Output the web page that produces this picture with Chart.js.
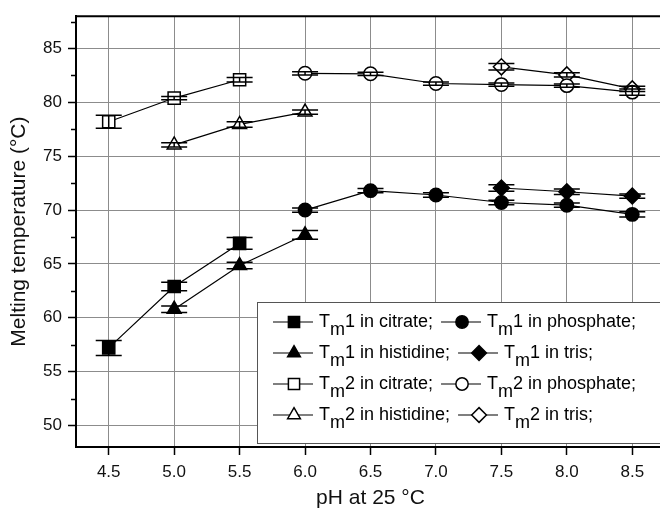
<!DOCTYPE html>
<html lang="en">
<head>
<meta charset="UTF-8">
<title>Melting temperature vs pH</title>
<script src="https://cdn.jsdelivr.net/npm/chart.js"></script>
<style>
  html, body { margin: 0; padding: 0; background: #fff; overflow: hidden; }
  #grafico { display: block; }
</style>
</head>
<body>
<canvas id="grafico" width="680" height="514"></canvas>
<script>
// eje x / eje y
const xTicks = [4.5, 5.0, 5.5, 6.0, 6.5, 7.0, 7.5, 8.0, 8.5];
const yTicks = [50, 55, 60, 65, 70, 75, 80, 85];
const yMinorTicks = [52.5, 57.5, 62.5, 67.5, 72.5, 77.5, 82.5, 87.5];

// pH de cada tampón
const phCitrate = [4.5, 5.0, 5.5];
const phHistidine = [5.0, 5.5, 6.0];
const phPhosphate = [6.0, 6.5, 7.0, 7.5, 8.0, 8.5];
const phTris = [7.5, 8.0, 8.5];

// Tm1
const tm1Citrate = [57.2, 62.9, 66.9];
const tm1CitrateErr = [0.7, 0.4, 0.55];
const tm1Phosphate = [70.0, 71.8, 71.4, 70.7, 70.45, 69.6];
const tm1PhosphateErr = [0.2, 0.2, 0.2, 0.2, 0.2, 0.25];
const tm1Histidine = [60.8, 64.85, 67.7];
const tm1HistidineErr = [0.3, 0.3, 0.4];
const tm1Tris = [72.05, 71.7, 71.3];
const tm1TrisErr = [0.3, 0.25, 0.2];

// Tm2
const tm2Citrate = [78.2, 80.4, 82.1];
const tm2CitrateErr = [0.6, 0.15, 0.2];
const tm2Phosphate = [82.7, 82.65, 81.75, 81.65, 81.55, 80.95];
const tm2PhosphateErr = [0.15, 0.15, 0.15, 0.15, 0.15, 0.3];
const tm2Histidine = [76.05, 77.95, 79.1];
const tm2HistidineErr = [0.2, 0.25, 0.2];
const tm2Tris = [83.3, 82.55, 81.25];
const tm2TrisErr = [0.3, 0.2, 0.25];

// orden de la leyenda: filas de dos
const seriesNames = [
    'Tm1 in citrate;', 'Tm1 in phosphate;',
    'Tm1 in histidine;', 'Tm1 in tris;',
    'Tm2 in citrate;', 'Tm2 in phosphate;',
    'Tm2 in histidine;', 'Tm2 in tris;'
];

const FONT = '"Liberation Sans", Arial, sans-serif';
Chart.defaults.font.family = FONT;
Chart.defaults.color = '#000';

function serie(label, xs, ys, errs, style, radius, filled) {
    return {
        label: label,
        data: xs.map((x, i) => ({ x: x, y: ys[i] })),
        errores: errs,
        borderColor: '#000',
        borderWidth: 1.2,
        pointStyle: style,
        pointRadius: radius,
        pointHoverRadius: radius,
        pointBorderWidth: 1.5,
        pointBackgroundColor: filled ? '#000' : '#fff',
        pointBorderColor: '#000',
        showLine: true,
        tension: 0
    };
}

const datasets = [
    serie(seriesNames[0], phCitrate, tm1Citrate, tm1CitrateErr, 'rect', 8.6, true),
    serie(seriesNames[1], phPhosphate, tm1Phosphate, tm1PhosphateErr, 'circle', 6.7, true),
    serie(seriesNames[2], phHistidine, tm1Histidine, tm1HistidineErr, 'triangle', 8, true),
    serie(seriesNames[3], phTris, tm1Tris, tm1TrisErr, 'rectRot', 8, true),
    serie(seriesNames[4], phCitrate, tm2Citrate, tm2CitrateErr, 'rect', 8.6, false),
    serie(seriesNames[5], phPhosphate, tm2Phosphate, tm2PhosphateErr, 'circle', 6.7, false),
    serie(seriesNames[6], phHistidine, tm2Histidine, tm2HistidineErr, 'triangle', 8, false),
    serie(seriesNames[7], phTris, tm2Tris, tm2TrisErr, 'rectRot', 8, false)
];

// barras de error encima de los marcadores (como Origin)
const barrasError = {
    id: 'barrasError',
    afterDatasetsDraw(chart) {
        const ctx = chart.ctx;
        const y = chart.scales.y;
        ctx.save();
        ctx.strokeStyle = '#000';
        ctx.lineWidth = 1.5;
        chart.data.datasets.forEach((ds, i) => {
            const meta = chart.getDatasetMeta(i);
            meta.data.forEach((p, j) => {
                const v = ds.data[j].y;
                const e = ds.errores[j];
                const yHi = y.getPixelForValue(v + e);
                const yLo = y.getPixelForValue(v - e);
                ctx.beginPath();
                ctx.moveTo(p.x, yHi); ctx.lineTo(p.x, yLo);
                ctx.moveTo(p.x - 13, yHi); ctx.lineTo(p.x + 13, yHi);
                ctx.moveTo(p.x - 13, yLo); ctx.lineTo(p.x + 13, yLo);
                ctx.stroke();
            });
        });
        ctx.restore();
    }
};

function marcador(ctx, style, r, x, y) {
    ctx.beginPath();
    if (style === 'circle') {
        ctx.arc(x, y, r, 0, Math.PI * 2);
    } else if (style === 'rect') {
        const s = r * Math.SQRT1_2;
        ctx.rect(x - s, y - s, 2 * s, 2 * s);
    } else if (style === 'triangle') {
        ctx.moveTo(x, y - r);
        ctx.lineTo(x + r * 0.866, y + r / 2);
        ctx.lineTo(x - r * 0.866, y + r / 2);
        ctx.closePath();
    } else if (style === 'rectRot') {
        ctx.moveTo(x - r, y); ctx.lineTo(x, y - r);
        ctx.lineTo(x + r, y); ctx.lineTo(x, y + r);
        ctx.closePath();
    }
    ctx.fill();
    ctx.stroke();
}

// marco superior, ticks menores y leyenda con subíndice
const marcoYLeyenda = {
    id: 'marcoYLeyenda',
    afterDraw(chart) {
        const ctx = chart.ctx;
        const a = chart.chartArea;
        const y = chart.scales.y;
        ctx.save();
        ctx.strokeStyle = '#000';
        ctx.lineWidth = 2;
        ctx.beginPath();
        ctx.moveTo(a.left - 1, a.top);
        ctx.lineTo(a.right, a.top);
        ctx.stroke();
        ctx.lineWidth = 1.5;
        yMinorTicks.forEach(v => {
            const py = Math.round(y.getPixelForValue(v)) + 0.5;
            ctx.beginPath();
            ctx.moveTo(a.left - 5, py);
            ctx.lineTo(a.left, py);
            ctx.stroke();
        });

        // leyenda
        const bx = 257, by = 302, bw = 430, bh = 141;
        ctx.fillStyle = '#fff';
        ctx.fillRect(bx, by, bw, bh);
        ctx.strokeStyle = '#555';
        ctx.lineWidth = 1;
        ctx.strokeRect(bx + 0.5, by + 0.5, bw, bh);

        ctx.font = '18px ' + FONT;
        ctx.textBaseline = 'alphabetic';
        ctx.textAlign = 'left';
        const filas = 4;
        for (let f = 0; f < filas; f++) {
            const ry = 322 + f * 31;
            let cx = 273;
            for (let c = 0; c < 2; c++) {
                const ds = chart.data.datasets[f * 2 + c];
                ctx.strokeStyle = '#000';
                ctx.lineWidth = 1.2;
                ctx.beginPath();
                ctx.moveTo(cx, ry);
                ctx.lineTo(cx + 40, ry);
                ctx.stroke();
                ctx.lineWidth = 1.5;
                ctx.fillStyle = ds.pointBackgroundColor;
                marcador(ctx, ds.pointStyle, ds.pointRadius * 0.92, cx + 21, ry);
                // texto: T + m subíndice + resto
                ctx.fillStyle = '#000';
                let tx = cx + 46;
                const base = ry + 5;
                const etiqueta = ds.label;
                ctx.fillText(etiqueta[0], tx, base);
                tx += ctx.measureText(etiqueta[0]).width;
                ctx.fillText(etiqueta[1], tx, base + 8);
                tx += ctx.measureText(etiqueta[1]).width;
                const resto = etiqueta.slice(2);
                ctx.fillText(resto, tx, base);
                tx += ctx.measureText(resto).width;
                cx = tx + 8;
            }
        }
        ctx.restore();
    }
};

const grafico = new Chart(document.getElementById('grafico'), {
    type: 'scatter',
    data: { datasets: datasets },
    options: {
        responsive: false,
        animation: false,
        devicePixelRatio: 1,
        layout: { padding: { top: 13, right: 15, left: 0, bottom: 0 } },
        plugins: {
            legend: { display: false },
            tooltip: { enabled: false }
        },
        scales: {
            x: {
                type: 'linear',
                min: 4.25,
                max: 8.75,
                afterBuildTicks: s => { s.ticks = xTicks.map(v => ({ value: v })); },
                afterFit: s => { s.height = 67; },
                ticks: {
                    font: { size: 17 },
                    color: '#111',
                    padding: 7,
                    maxRotation: 0,
                    callback: v => v.toFixed(1)
                },
                grid: { color: '#8c8c8c', lineWidth: 1, tickLength: 8, tickColor: '#000', tickWidth: 1.5 },
                border: { color: '#000', width: 2 },
                title: {
                    display: true,
                    text: 'pH at 25 °C',
                    font: { size: 21 },
                    color: '#111',
                    padding: { top: 0, bottom: 3 }
                }
            },
            y: {
                type: 'linear',
                min: 48,
                max: 88,
                afterBuildTicks: s => { s.ticks = yTicks.map(v => ({ value: v })); },
                afterFit: s => { s.width = 76; },
                ticks: {
                    font: { size: 17 },
                    color: '#111',
                    padding: 6,
                    callback: v => v
                },
                grid: { color: '#8c8c8c', lineWidth: 1, tickLength: 8, tickColor: '#000', tickWidth: 1.5 },
                border: { color: '#000', width: 2 },
                title: {
                    display: true,
                    text: 'Melting temperature (°C)',
                    font: { size: 21 },
                    color: '#111',
                    padding: { top: 7, bottom: 0 }
                }
            }
        }
    },
    plugins: [barrasError, marcoYLeyenda]
});
</script>
</body>
</html>
